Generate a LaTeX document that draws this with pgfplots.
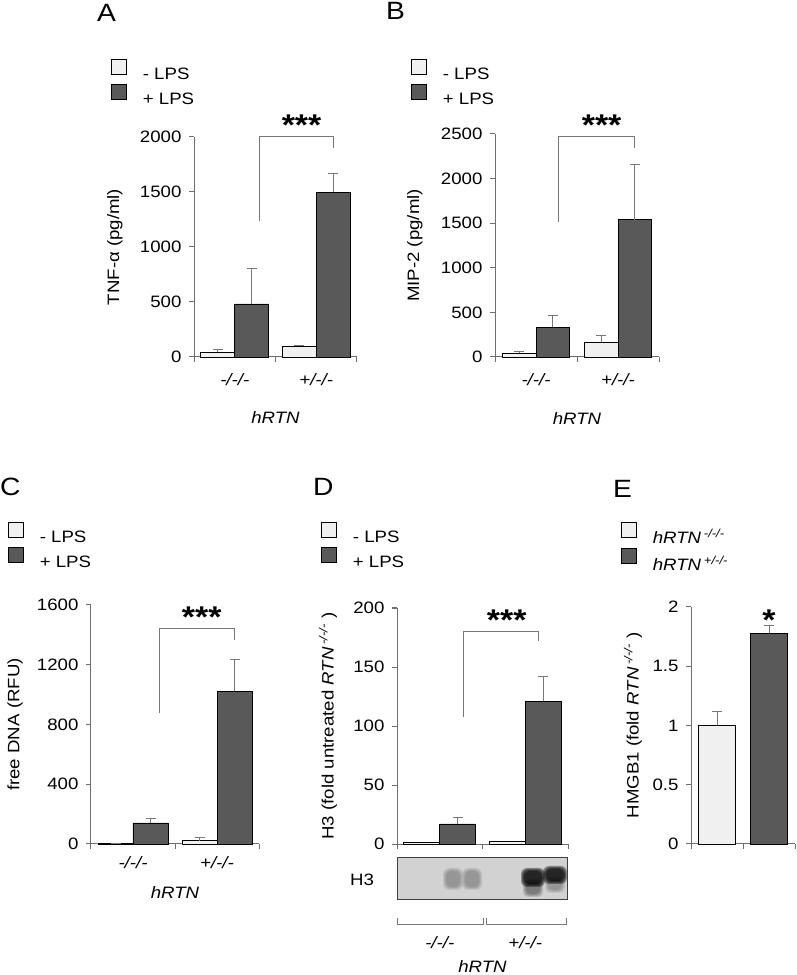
\documentclass[border=0pt]{standalone}
\usepackage{fontspec}
\setmainfont{Liberation Sans}[FakeStretch=1.13]
\usepackage{pgfplots}
\pgfplotsset{compat=1.18}

\definecolor{lightbar}{HTML}{F0F0F0}
\definecolor{darkbar}{HTML}{595959}
\definecolor{axcol}{HTML}{6E6E6E}
\definecolor{errcol}{HTML}{777777}
\definecolor{blotbg}{HTML}{D2D2D2}

\newcommand\fs{\fontsize{16.5}{19}\selectfont}
\newcommand\starfont{\fontsize{30}{30}\selectfont\bfseries}

\pgfplotsset{
  panel/.style={
    scale only axis,
    axis x line*=bottom, axis y line*=left,
    axis line style={draw=axcol, line width=1pt},
    xmin=-0.5, xmax=1.5, ymin=0, enlargelimits=false,
    xtick={-0.5,0.5,1.5}, xticklabels={},
    tick align=outside, major tick length=5pt,
    tick style={draw=axcol, line width=1pt},
    tick label style={font=\fs},
    /pgf/number format/assume math mode=true,
    /pgf/number format/1000 sep={},
    scaled y ticks=false,
    yticklabel style={xshift=-4pt},
    label style={font=\fs},
    ybar=0pt, bar width=34pt,
    clip=false,
    legend cell align=left,
    legend style={draw=none, fill=none, font=\fs, anchor=north west,
      inner sep=0pt, outer sep=0pt, row sep=1pt,
      /tikz/every odd column/.append style={column sep=14pt}},
    legend image code/.code={\draw[##1] (0pt,0pt) rectangle (15pt,15pt);},
  },
  cats/.style={extra x ticks={0,1}, extra x tick labels={-/-/-,+/-/-},
     extra x tick style={major tick length=0pt,
       xticklabel style={font=\fs\itshape, anchor=center, yshift=#1}}},
  lightb/.style={fill=lightbar, draw=black, line width=0.8pt},
  darkb/.style={fill=darkbar, draw=black, line width=0.8pt},
  errs/.style={/pgfplots/error bars/y dir=plus, /pgfplots/error bars/y explicit,
     /pgfplots/error bars/error bar style={draw=errcol, line width=1pt},
     /pgfplots/error bars/error mark options={draw=errcol, line width=1pt, mark size=5pt, rotate=90}},
}

\begin{document}
\begin{tikzpicture}[x=1pt,y=1pt]
\useasboundingbox (0pt,0pt) rectangle (796pt,975pt);

% panel letters
\node[anchor=north west, inner sep=0pt, font=\fontsize{25}{25}\selectfont] at (97pt,971pt) {A};
\node[anchor=north west, inner sep=0pt, font=\fontsize{25}{25}\selectfont] at (386pt,973pt) {B};
\node[anchor=north west, inner sep=0pt, font=\fontsize{25}{25}\selectfont] at (0pt,497pt) {C};
\node[anchor=north west, inner sep=0pt, font=\fontsize{25}{25}\selectfont] at (313pt,497pt) {D};
\node[anchor=north west, inner sep=0pt, font=\fontsize{25}{25}\selectfont] at (613pt,495pt) {E};

% ---------------- A
\begin{axis}[panel, cats=-23pt, at={(194pt,618pt)}, anchor=south west,
  width=163pt, height=220pt, ymax=2000, ytick={0,500,...,2000},
  ylabel={TNF-α (pg/ml)}, ylabel style={at={(axis description cs:-0.485,0.5)}, anchor=center},
  xlabel={\itshape hRTN}, xlabel style={at={(axis description cs:0.5,-0.277)}, anchor=center},
  legend style={at={(axis description cs:-0.509,1.3545)}}]
\addplot[lightb, errs] coordinates {(0,42) +- (0,22) (1,97) +- (0,12)};
\addplot[darkb, errs] coordinates {(0,482) +- (0,318) (1,1497) +- (0,167)};
\legend{- LPS, + LPS}
\draw[errcol, line width=1pt] (axis cs:0.3,1233) -- (axis cs:0.3,2000) -- (axis cs:1.209,2000) -- (axis cs:1.209,1900);
\node[anchor=north, inner sep=0pt, font=\starfont] at (axis cs:0.82,2200) {***};
\end{axis}

% ---------------- B
\begin{axis}[panel, cats=-23pt, at={(495pt,618pt)}, anchor=south west,
  width=164pt, height=223pt, ymax=2500, ytick={0,500,...,2500}, bar width=33.5pt,
  ylabel={MIP-2 (pg/ml)}, ylabel style={at={(axis description cs:-0.488,0.5)}, anchor=center},
  xlabel={\itshape hRTN}, xlabel style={at={(axis description cs:0.5,-0.274)}, anchor=center},
  legend style={at={(axis description cs:-0.512,1.336)}}]
\addplot[lightb, errs] coordinates {(0,41) +- (0,26) (1,164) +- (0,75)};
\addplot[darkb, errs] coordinates {(0,336) +- (0,131) (1,1540) +- (0,620)};
\legend{- LPS, + LPS}
\draw[errcol, line width=1pt] (axis cs:0.28,1517) -- (axis cs:0.28,2474) -- (axis cs:1.207,2474) -- (axis cs:1.207,2347);
\node[anchor=north, inner sep=0pt, font=\starfont] at (axis cs:0.80,2713) {***};
\end{axis}

% ---------------- C
\begin{axis}[panel, cats=-19pt, at={(91pt,131pt)}, anchor=south west,
  width=168pt, height=239pt, ymax=1600, ytick={0,400,...,1600}, bar width=35pt,
  ylabel={free DNA (RFU)}, ylabel style={at={(axis description cs:-0.452,0.5)}, anchor=center},
  xlabel={\itshape hRTN}, xlabel style={at={(axis description cs:0.5,-0.205)}, anchor=center},
  legend style={at={(axis description cs:-0.494,1.347)}}]
\addplot[lightb, errs] coordinates {(0,2) +- (0,3) (1,22) +- (0,20)};
\addplot[darkb, errs] coordinates {(0,141) +- (0,27) (1,1021) +- (0,215)};
\legend{- LPS, + LPS}
\draw[errcol, line width=1pt] (axis cs:0.31,878) -- (axis cs:0.31,1440) -- (axis cs:1.214,1440) -- (axis cs:1.214,1365);
\node[anchor=north, inner sep=0pt, font=\starfont] at (axis cs:0.818,1589) {***};
\end{axis}

% ---------------- D
\begin{axis}[panel, cats=-99pt, at={(397pt,131pt)}, anchor=south west,
  width=171pt, height=236pt, ymax=200, ytick={0,50,...,200}, bar width=36pt,
  ylabel={H3 (fold untreated \textit{RTN}\,\textsuperscript{\itshape -/-/-} )},
  ylabel style={at={(axis description cs:-0.404,0.5)}, anchor=center},
  xlabel={\itshape hRTN}, xlabel style={at={(axis description cs:0.5,-0.521)}, anchor=center},
  legend style={at={(axis description cs:-0.444,1.364)}}]
\addplot[lightb] coordinates {(0,1) (1,2)};
\addplot[darkb, errs] coordinates {(0,17) +- (0,5.6) (1,121) +- (0,21)};
\legend{- LPS, + LPS}
\draw[errcol, line width=1pt] (axis cs:0.272,108) -- (axis cs:0.272,180) -- (axis cs:1.16,180) -- (axis cs:1.16,172);
\node[anchor=north, inner sep=0pt, font=\starfont] at (axis cs:0.783,198.3) {***};
\end{axis}

% blot
\begin{scope}
\clip (397pt,76pt) rectangle (567pt,118pt);
\fill[blotbg] (397pt,76pt) rectangle (567pt,118pt);
\foreach \d in {3,2,1,0} {
  \fill[black, opacity=0.08, rounded corners=6pt] (446pt-\d pt,88pt-\d pt) rectangle (460pt+\d pt,104pt+\d pt);
  \fill[black, opacity=0.08, rounded corners=6pt] (465pt-\d pt,88pt-\d pt) rectangle (479pt+\d pt,104pt+\d pt);
  \fill[black, opacity=0.35, rounded corners=6pt] (524pt-\d pt,91pt-\d pt) rectangle (542pt+\d pt,104pt+\d pt);
  \fill[black, opacity=0.12, rounded corners=5pt] (526pt-\d pt,81pt-\d pt) rectangle (540pt+\d pt,93pt+\d pt);
  \fill[black, opacity=0.35, rounded corners=6pt] (546pt-\d pt,94pt-\d pt) rectangle (564pt+\d pt,106pt+\d pt);
  \fill[black, opacity=0.08, rounded corners=5pt] (548pt-\d pt,85pt-\d pt) rectangle (562pt+\d pt,95pt+\d pt);
}
\end{scope}
\draw[black!75, line width=0.8pt] (397pt,76pt) rectangle (567pt,118pt);
\node[font=\fs] at (362pt,95pt) {H3};
\draw[errcol, line width=1pt] (397pt,57pt) -- (397pt,50pt) -- (483pt,50pt) -- (483pt,57pt);
\draw[errcol, line width=1pt] (486pt,57pt) -- (486pt,50pt) -- (566pt,50pt) -- (566pt,57pt);

% ---------------- E
\begin{axis}[panel, at={(691pt,131pt)}, anchor=south west,
  width=104pt, height=237pt, ymax=2, ytick={0,0.5,1,1.5,2}, bar width=37pt,
  ylabel={HMGB1 (fold \textit{RTN}\,\textsuperscript{\itshape -/-/-} )},
  ylabel style={at={(axis description cs:-0.558,0.5)}, anchor=center},
  legend style={at={(axis description cs:-0.673,1.359)}}]
\addplot[lightb, errs, bar shift=0pt] coordinates {(0,1.0) +- (0,0.114)};
\addplot[darkb, errs, bar shift=0pt] coordinates {(1,1.778) +- (0,0.062)};
\legend{\textit{hRTN}\,\textsuperscript{\itshape -/-/-}, \textit{hRTN}\,\textsuperscript{\itshape +/-/-}}
\node[anchor=north, inner sep=0pt, font=\starfont] at (axis cs:1,1.975) {*};
\end{axis}
\end{tikzpicture}
\end{document}
